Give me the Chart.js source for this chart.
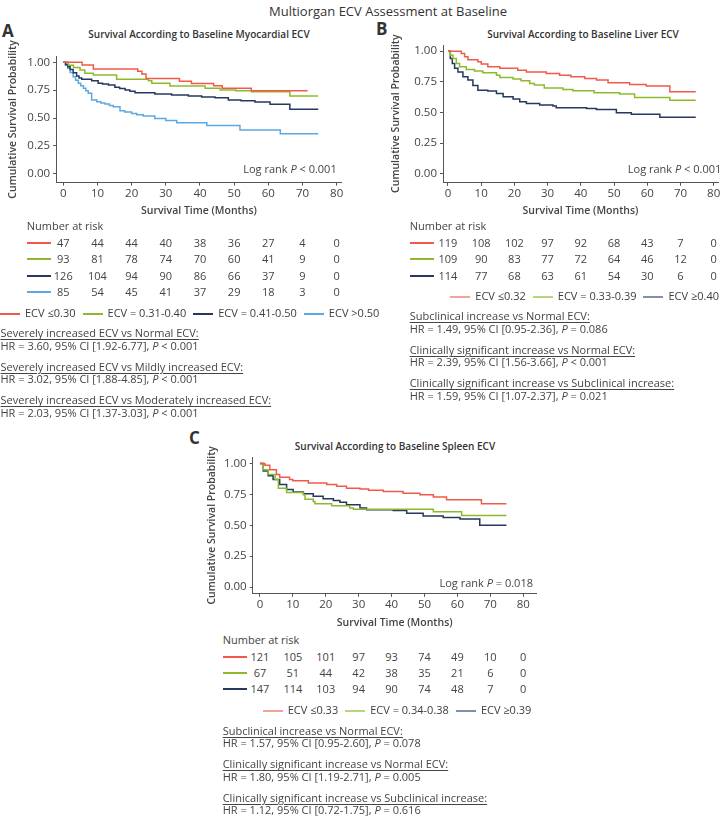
<!DOCTYPE html>
<html><head><meta charset="utf-8">
<script src="https://cdn.jsdelivr.net/npm/chart.js@4.4.0/dist/chart.umd.min.js"></script>
<style>
html,body{margin:0;padding:0;background:#fff;}
#page{position:relative;width:726px;height:817px;overflow:hidden;font-family:"Open Sans",sans-serif;color:#3d3d3d;}
.t{position:absolute;white-space:nowrap;}
canvas{position:absolute;}
.u{text-decoration:underline;text-underline-offset:2px;text-decoration-thickness:1px;}
.leg{position:absolute;white-space:nowrap;font-size:11px;line-height:14px;height:14px;}
.leg .it{display:inline-block;position:relative;padding-left:25px;margin-right:7px;}
.leg .ln{position:absolute;left:0;top:7px;width:20px;height:2px;}
</style></head><body><div id="page"></div>
<script>
// ---------- shared ticks ----------
const xTicks=[0,10,20,30,40,50,60,70,80];
const yTicks=[0,0.25,0.5,0.75,1];

// ---------- Panel A: myocardial ECV ----------
const labelsA=['ECV \u22640.30','ECV = 0.31-0.40','ECV = 0.41-0.50','ECV >0.50'];
const monthsA1=[0,5.5,8.8,21.8,23.0,24.2,34.0,37.5,44.0,46.5,55.0,71.5];
const survA1=[1,0.977,0.94,0.92,0.895,0.856,0.83,0.81,0.79,0.767,0.745,0.745];
const monthsA2=[0,1.5,3.0,4.9,6.3,8.8,15.6,24.9,25.9,31.2,41.5,45.9,50.5,55.1,66.3,74.6];
const survA2=[1,0.975,0.955,0.932,0.902,0.887,0.848,0.836,0.812,0.788,0.767,0.752,0.745,0.737,0.698,0.698];
const monthsA3=[0,0.7,1.3,2.0,2.9,3.9,4.6,5.4,8.3,10.2,11.5,13.2,15.1,16.5,18.1,19.5,21.0,26.8,31.7,36.6,40.5,44.4,48.3,52.0,56.1,60.5,66.3,74.6];
const survA3=[1,0.98,0.961,0.935,0.907,0.877,0.86,0.848,0.836,0.812,0.805,0.797,0.776,0.765,0.752,0.74,0.728,0.716,0.707,0.698,0.69,0.683,0.662,0.655,0.644,0.623,0.578,0.578];
const monthsA4=[0,0.6,1.3,2.0,2.9,3.6,4.4,5.1,5.9,6.6,7.3,8.3,9.8,11.0,12.2,13.5,14.6,16.6,18.0,20.0,21.5,23.4,26.8,30.0,33.2,42.0,51.7,63.5,74.6];
const survA4=[1,0.975,0.947,0.91,0.871,0.84,0.812,0.79,0.767,0.745,0.722,0.662,0.647,0.636,0.626,0.612,0.602,0.566,0.555,0.542,0.53,0.518,0.497,0.478,0.458,0.434,0.392,0.359,0.359];
const riskA1=[47,44,44,40,38,36,27,4,0];
const riskA2=[93,81,78,74,70,60,41,9,0];
const riskA3=[126,104,94,90,86,66,37,9,0];
const riskA4=[85,54,45,41,37,29,18,3,0];

// ---------- Panel B: liver ECV ----------
const labelsB=['ECV \u22640.32','ECV = 0.33-0.39','ECV \u22650.40'];
const monthsB1=[0,4,5,6,9,10,12,15.6,21,23.6,29.6,33.6,37,41.2,44.7,48.2,54.7,59.7,66.8,74.6];
const survB1=[1,0.98,0.954,0.93,0.913,0.894,0.872,0.86,0.845,0.83,0.818,0.804,0.79,0.777,0.764,0.742,0.728,0.715,0.668,0.668];
const monthsB2=[0,0.7,1.5,2.5,3.5,5.5,8,10.5,14.6,15.6,19.6,22,24.6,26,29,34.6,37.6,44,51.7,56.2,66.8,74.6];
const survB2=[1,0.967,0.94,0.90,0.872,0.85,0.837,0.823,0.804,0.785,0.772,0.758,0.736,0.723,0.70,0.687,0.677,0.66,0.65,0.622,0.60,0.60];
const monthsB3=[0,0.7,1.3,2,3,4.5,6,7.5,9,12,14.6,16.6,19.6,21.6,23.6,27.6,31.6,32.6,41.7,44.7,50.7,55.2,63.8,74.6];
const survB3=[1,0.94,0.90,0.86,0.83,0.79,0.764,0.72,0.68,0.674,0.655,0.628,0.61,0.587,0.573,0.56,0.552,0.538,0.533,0.524,0.497,0.486,0.46,0.46];
const riskB1=[119,108,102,97,92,68,43,7,0];
const riskB2=[109,90,83,77,72,64,46,12,0];
const riskB3=[114,77,68,63,61,54,30,6,0];

// ---------- Panel C: spleen ECV ----------
const labelsC=['ECV \u22640.33','ECV = 0.34-0.38','ECV \u22650.39'];
const monthsC1=[0,1.5,3,5,6,9,10,14.7,20.3,23.3,26.3,30.4,33,37.5,43.5,48.6,52.7,56.7,67.3,74.9];
const survC1=[1,0.986,0.95,0.91,0.889,0.87,0.86,0.842,0.829,0.815,0.80,0.793,0.783,0.774,0.76,0.747,0.728,0.707,0.674,0.674];
const monthsC2=[0,1,2.5,4.6,5.6,8.1,13.2,13.7,16.2,16.7,21.8,27.3,28.4,52.7,61.3,74.9];
const survC2=[1,0.95,0.91,0.87,0.80,0.766,0.747,0.71,0.693,0.674,0.658,0.64,0.63,0.609,0.579,0.579];
const monthsC3=[0,1,2.5,4,6,8.1,10.1,13.2,16.2,19.2,22.3,24.3,26.3,30.4,32.4,40.5,44.6,49.6,55.7,60.8,66.8,74.9];
const survC3=[1,0.94,0.90,0.87,0.83,0.79,0.77,0.755,0.734,0.715,0.70,0.687,0.666,0.64,0.625,0.62,0.598,0.576,0.563,0.55,0.50,0.50];
const riskC1=[121,105,101,97,93,74,49,10,0];
const riskC2=[67,51,44,42,38,35,21,6,0];
const riskC3=[147,114,103,94,90,74,48,7,0];

// ---------- styling ----------
const FF='"Open Sans", sans-serif';
const TC='#444444', AC='#555555';
const RED='#EF5A4A', GREEN='#8DBA2D', NAVY='#26395C', BLUE='#5EA8E2';
const RED_L='#F3A199', GREEN_L='#B7D57E', NAVY_L='#7F90AA';
const page=document.getElementById('page');

function addText(html,x,y,o={}){
  const d=document.createElement('div');
  d.className='t'+(o.u?' u':'');
  const fs=o.fs||11, lh=Math.round(fs*1.3);
  d.style.fontSize=fs+'px'; d.style.lineHeight=lh+'px';
  d.style.top=(y-lh/2)+'px'; d.style.left=x+'px';
  if(o.align==='center') d.style.transform='translateX(-50%)';
  if(o.align==='right') d.style.transform='translateX(-100%)';
  if(o.fw) d.style.fontWeight=o.fw;
  if(o.color) d.style.color=o.color;
  d.innerHTML=html;
  page.appendChild(d);
  return d;
}
function addLine(x1,x2,y,color){
  const d=document.createElement('div');
  d.style.cssText='position:absolute;left:'+Math.round(x1)+'px;top:'+Math.round(y-1)+'px;width:'+Math.round(x2-x1)+'px;height:2px;background:'+color+';';
  page.appendChild(d);
}
function addLegend(x,y,labels,colors){
  const d=document.createElement('div');
  d.className='leg';
  d.style.left=x+'px'; d.style.top=Math.round(y-7)+'px';
  labels.forEach((l,i)=>{
    const it=document.createElement('span'); it.className='it';
    const ln=document.createElement('span'); ln.className='ln'; ln.style.background=colors[i];
    it.appendChild(ln); it.appendChild(document.createTextNode(l)); d.appendChild(it);
  });
  page.appendChild(d);
}

function makeChart(p){
  const cv=document.createElement('canvas');
  cv.width=p.cw; cv.height=p.ch;
  cv.style.left=p.cl+'px'; cv.style.top=p.ct+'px';
  cv.style.width=p.cw+'px'; cv.style.height=p.ch+'px';
  page.appendChild(cv);
  const lhT=10.5*1.2;
  const xAxisH=(p.xTitleY-p.area.b)+lhT/2;
  const padBottom=p.ch-(p.area.b-p.ct)-xAxisH;
  return new Chart(cv,{
    type:'line',
    data:{datasets:p.series.map(s=>({
      data:s.t.map((t,i)=>({x:t,y:s.s[i]})),
      borderColor:s.c,borderWidth:1.5,pointRadius:0,stepped:'before',fill:false,tension:0
    }))},
    options:{
      responsive:false,animation:false,devicePixelRatio:1,
      layout:{padding:{left:0,top:p.area.t-p.ct,right:p.cl+p.cw-p.area.r,bottom:padBottom}},
      plugins:{legend:{display:false},tooltip:{enabled:false},title:{display:false}},
      scales:{
        x:{type:'linear',min:p.xMin,max:p.xMax,
          afterBuildTicks:a=>{a.ticks=xTicks.map(v=>({value:v}));},
          afterFit:s=>{s.height=xAxisH;},
          ticks:{font:{family:FF,size:11.5},color:TC,padding:1.2,maxRotation:0,autoSkip:false,callback:v=>String(v)},
          grid:{display:true,drawOnChartArea:false,drawTicks:true,tickLength:3.5,tickColor:AC},
          border:{display:true,color:AC,width:1},
          title:{display:true,text:'Survival Time (Months)',font:{family:FF,size:10.5,weight:'600'},color:TC,padding:{top:0,bottom:0}}
        },
        y:{type:'linear',min:p.yMin,max:p.yMax,
          afterBuildTicks:a=>{a.ticks=yTicks.map(v=>({value:v}));},
          afterFit:s=>{s.width=p.area.l-p.cl;},
          ticks:{font:{family:FF,size:11.5},color:TC,padding:3,callback:v=>Number(v).toFixed(2)},
          grid:{display:true,drawOnChartArea:false,drawTicks:true,tickLength:3,tickColor:AC},
          border:{display:true,color:AC,width:1},
          title:{display:true,text:'Cumulative Survival Probability',font:{family:FF,size:10.5,weight:'600'},color:TC,padding:{top:p.yTitleX-p.cl-lhT/2,bottom:0}}
        }
      }
    }
  });
}

function riskTable(chart,cl,labelX,headY,rowsY,rows,colors){
  addText('Number at risk',labelX,headY,{color:TC});
  rows.forEach((r,ri)=>{
    addLine(labelX,labelX+24,rowsY[ri],colors[ri]);
    r.forEach((n,i)=>{
      const px=chart.scales.x.getPixelForValue(xTicks[i])+cl;
      addText(String(n),px,rowsY[ri],{align:'center',color:TC});
    });
  });
}

// ---------- header ----------
addText('Multiorgan ECV Assessment at Baseline',388,11,{fs:13,align:'center',fw:500,color:'#333'});

// ---------- Panel A ----------
addText('A',2,31,{fs:17,fw:700,color:'#333'});
addText('Survival According to Baseline Myocardial ECV',199,34,{fs:10,fw:600,align:'center',color:'#333'});
const chartA=makeChart({cl:0,ct:20,cw:360,ch:200,area:{l:56.1,r:341.8,t:56.8,b:182.1},
  xMin:-2.1,xMax:81.5,yMin:-0.075,yMax:1.05,xTitleY:210.7,yTitleX:13.3,
  series:[{t:monthsA1,s:survA1,c:RED},{t:monthsA2,s:survA2,c:GREEN},{t:monthsA3,s:survA3,c:NAVY},{t:monthsA4,s:survA4,c:BLUE}]});
addText('Log rank <i>P</i> &lt; 0.001',336.7,169,{align:'right',color:TC});
riskTable(chartA,0,26.7,226,[243.3,259.3,275.7,291.7],[riskA1,riskA2,riskA3,riskA4],[RED,GREEN,NAVY,BLUE]);
addLegend(0,313.3,labelsA,[RED,GREEN,NAVY,BLUE]);
[['Severely increased ECV vs Normal ECV:',333.3,1],
 ['HR = 3.60, 95% CI [1.92-6.77], <i>P</i> &lt; 0.001',345.7,0],
 ['Severely increased ECV vs Mildly increased ECV:',366.7,1],
 ['HR = 3.02, 95% CI [1.88-4.85], <i>P</i> &lt; 0.001',379.2,0],
 ['Severely increased ECV vs Moderately increased ECV:',400.2,1],
 ['HR = 2.03, 95% CI [1.37-3.03], <i>P</i> &lt; 0.001',412.5,0]
].forEach(l=>addText(l[0],0.5,l[1],{u:l[2],color:TC}));

// ---------- Panel B ----------
addText('B',376,29,{fs:17,fw:700,color:'#333'});
addText('Survival According to Baseline Liver ECV',583,34,{fs:10,fw:600,align:'center',color:'#333'});
const chartB=makeChart({cl:363,ct:20,cw:363,ch:200,area:{l:443,r:718,t:45,b:182.3},
  xMin:-1.5,xMax:81.3,yMin:-0.07,yMax:1.05,xTitleY:210.7,yTitleX:396.3,
  series:[{t:monthsB1,s:survB1,c:RED},{t:monthsB2,s:survB2,c:GREEN},{t:monthsB3,s:survB3,c:NAVY}]});
addText('Log rank <i>P</i> &lt; 0.001',721.3,169,{align:'right',color:TC});
riskTable(chartB,363,409.7,226,[243.3,259.3,275.7],[riskB1,riskB2,riskB3],[RED,GREEN,NAVY]);
addLegend(450.3,296,labelsB,[RED_L,GREEN_L,NAVY_L]);
[['Subclinical increase vs Normal ECV:',315.7,1],
 ['HR = 1.49, 95% CI [0.95-2.36], <i>P</i> = 0.086',329,0],
 ['Clinically significant increase vs Normal ECV:',350,1],
 ['HR = 2.39, 95% CI [1.56-3.66], <i>P</i> &lt; 0.001',362.3,0],
 ['Clinically significant increase vs Subclinical increase:',383.3,1],
 ['HR = 1.59, 95% CI [1.07-2.37], <i>P</i> = 0.021',396,0]
].forEach(l=>addText(l[0],409.7,l[1],{u:l[2],color:TC}));

// ---------- Panel C ----------
addText('C',189,438,{fs:17,fw:700,color:'#333'});
addText('Survival According to Baseline Spleen ECV',395,446.7,{fs:10,fw:600,align:'center',color:'#333'});
const chartC=makeChart({cl:180,ct:430,cw:370,ch:202,area:{l:252.7,r:536.7,t:457.3,b:593.3},
  xMin:-2.2,xMax:84.1,yMin:-0.05,yMax:1.05,xTitleY:623.3,yTitleX:211.7,
  series:[{t:monthsC1,s:survC1,c:RED},{t:monthsC2,s:survC2,c:GREEN},{t:monthsC3,s:survC3,c:NAVY}]});
addText('Log rank <i>P</i> = 0.018',533,583.3,{align:'right',color:TC});
riskTable(chartC,180,222.7,640,[656.7,672.7,689],[riskC1,riskC2,riskC3],[RED,GREEN,NAVY]);
addLegend(262.7,710,labelsC,[RED_L,GREEN_L,NAVY_L]);
[['Subclinical increase vs Normal ECV:',730.7,1],
 ['HR = 1.57, 95% CI [0.95-2.60], <i>P</i> = 0.078',742.7,0],
 ['Clinically significant increase vs Normal ECV:',764.3,1],
 ['HR = 1.80, 95% CI [1.19-2.71], <i>P</i> = 0.005',776.7,0],
 ['Clinically significant increase vs Subclinical increase:',797.7,1],
 ['HR = 1.12, 95% CI [0.72-1.75], <i>P</i> = 0.616',810,0]
].forEach(l=>addText(l[0],222.7,l[1],{u:l[2],color:TC}));
</script></body></html>
